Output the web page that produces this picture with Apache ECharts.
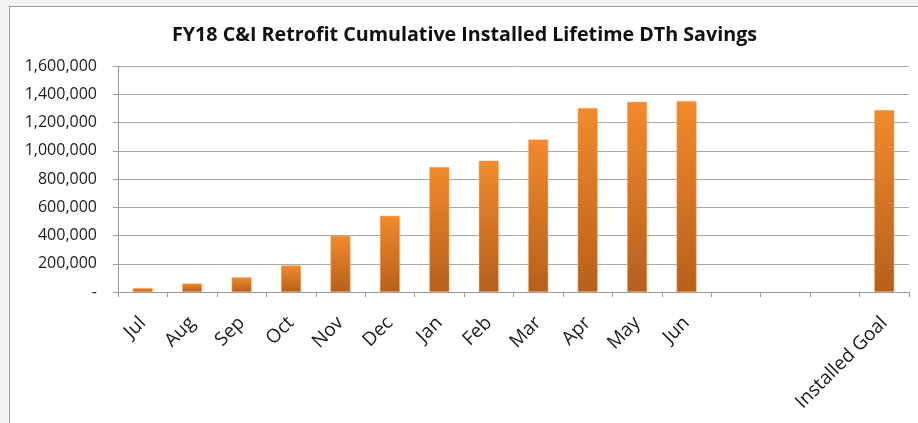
<!DOCTYPE html>
<html>
<head>
<meta charset="utf-8">
<script src="https://cdn.jsdelivr.net/npm/echarts@6/dist/echarts.min.js"></script>
<style>
  html, body { margin: 0; padding: 0; background: #f3f3f3; }
  #chart {
    position: absolute; left: 9px; top: 6px;
    width: 909px; height: 417px;
    background: #fff;
    border-left: 1px solid #a0a0a0;
    border-top: 1px solid #a0a0a0;
  }
</style>
</head>
<body>
<div id="chart"></div>
<script>
// categories incl. three empty slots before the goal
const categories = ['Jul', 'Aug', 'Sep', 'Oct', 'Nov', 'Dec', 'Jan', 'Feb', 'Mar', 'Apr', 'May', 'Jun', '', '', '', 'Installed Goal']
const savings = [28000, 60000, 104000, 188000, 398000, 540000, 885000, 930000, 1080000, 1302000, 1347000, 1352000, null, null, null, 1288000]
const yTicks = { min: 0, max: 1600000, interval: 200000 }

const chart = echarts.init(document.getElementById('chart'))

const option = {
  animation: false,
  title: {
    text: 'FY18 C&I Retrofit Cumulative Installed Lifetime DTh Savings',
    left: 'center',
    top: 13,
    textStyle: {
      fontFamily: 'Open Sans',
      fontWeight: 'bold',
      fontSize: 19.7,
      color: '#111'
    }
  },
  grid: {
    left: 108,
    right: 10,
    top: 59,
    bottom: 132
  },
  xAxis: {
    type: 'category',
    data: categories,
    boundaryGap: true,
    axisLine: { lineStyle: { color: '#9a9a9a' } },
    axisTick: { show: true, length: 5, alignWithLabel: false, lineStyle: { color: '#9a9a9a' } },
    axisLabel: {
      interval: 0,
      rotate: 45,
      margin: 28,
      fontFamily: 'Open Sans',
      fontSize: 19,
      color: '#1a1a1a'
    }
  },
  yAxis: {
    type: 'value',
    min: yTicks.min,
    max: yTicks.max,
    interval: yTicks.interval,
    axisLine: { show: true, lineStyle: { color: '#9a9a9a' } },
    axisTick: { show: true, length: 5, lineStyle: { color: '#9a9a9a' } },
    splitLine: { lineStyle: { color: '#a8a8a8', width: 1 } },
    axisLabel: {
      margin: 21,
      fontFamily: 'Open Sans',
      fontSize: 16,
      color: '#1a1a1a',
      formatter: v => v === 0 ? '-' : v.toLocaleString('en-US')
    }
  },
  series: [{
    type: 'bar',
    data: savings,
    barWidth: 20,
    itemStyle: {
      color: new echarts.graphic.LinearGradient(0, 0, 0, 1, [
        { offset: 0, color: '#f28a2c' },
        { offset: 1, color: '#b65f1c' }
      ]),
      borderColor: '#f6b27a',
      borderWidth: 0.5
    }
  }]
}

chart.setOption(option)
</script>
</body>
</html>
